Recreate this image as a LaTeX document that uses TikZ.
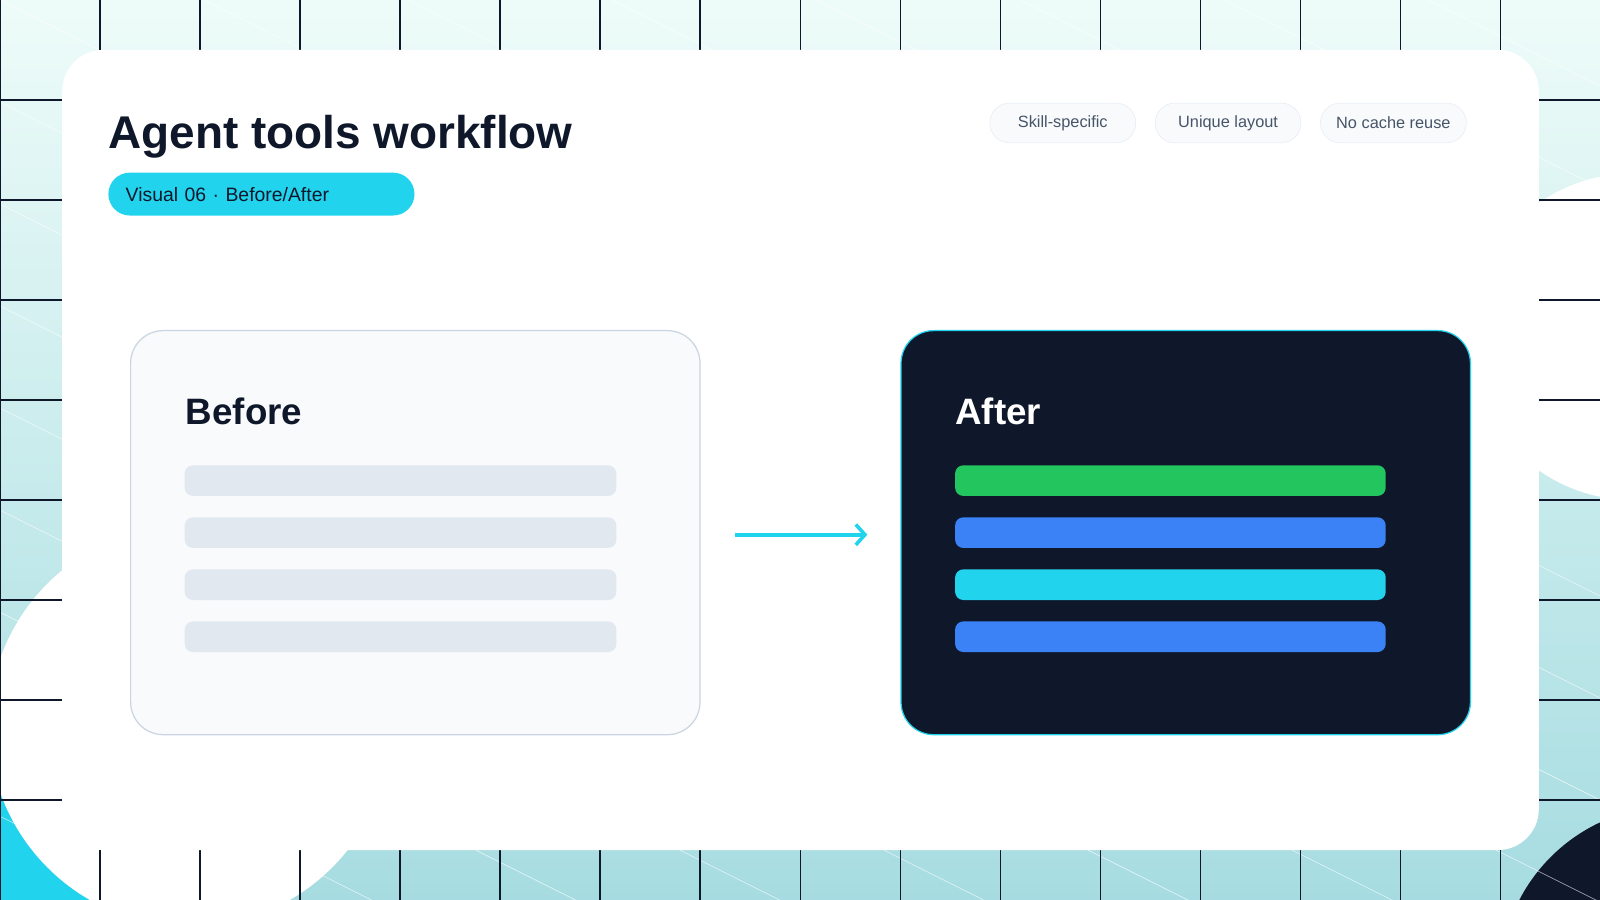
\documentclass[tikz,border=0pt]{standalone}
\usepackage{fontspec}
\setmainfont{Liberation Sans}
\usetikzlibrary{arrows.meta}
\definecolor{bgtop}{HTML}{EEFCF9}
\definecolor{bgbot}{HTML}{A6DCE1}
\definecolor{cyanx}{HTML}{22D3EE}
\definecolor{navy}{HTML}{0F172A}
\definecolor{slate50}{HTML}{F8FAFC}
\definecolor{slate200}{HTML}{E2E8F0}
\definecolor{slate300}{HTML}{CBD5E1}
\definecolor{slate600}{HTML}{475569}
\definecolor{greenx}{HTML}{22C55E}
\definecolor{bluex}{HTML}{3B82F6}
\tikzset{
  chip/.style={draw=slate200,fill=slate50,rounded corners=19.5pt,minimum width=143pt,minimum height=39pt,inner sep=0pt,text=slate600,font=\fontsize{16}{18}\selectfont},
  panel/.style={rounded corners=32pt,line width=1.2pt},
  bar/.style={rounded corners=8pt},
  head/.style={anchor=base west,font=\fontsize{36}{40}\selectfont\bfseries,inner sep=0pt}
}
\begin{document}
\begin{tikzpicture}[x=1pt,y=-1pt]
\useasboundingbox (0,0) rectangle (1568,882);
% background
\shade[top color=bgtop,bottom color=bgbot] (0,0) rectangle (1568,882);
\begin{scope}
\clip (0,0) rectangle (1568,882);
\fill[cyanx] (-60,880) circle (209);
\fill[white] (186,711) circle (197);
\fill[white] (1600,330) circle (160);
\fill[navy] (1640,960) circle (170);
\foreach \i in {-16,...,16}{
  \draw[white,opacity=0.6,line width=0.7pt] (\i*200,0) -- ++(1800,900);
}
\foreach \k in {0,...,16}{
  \draw[navy,line width=1pt] (\k*98,0) -- (\k*98,882);
}
\foreach \k in {1,...,8}{
  \draw[navy,line width=1pt] (0,\k*98) -- (1568,\k*98);
}
\end{scope}
% card
\fill[white,rounded corners=40pt] (61,49) rectangle (1508,833);
% title
\node[anchor=base west,inner sep=0pt,text=navy,font=\fontsize{45}{50}\selectfont\bfseries] (title) at (106,146) {Agent tools workflow};
\node[fill=cyanx,rounded corners=21pt,minimum width=300pt,minimum height=42pt,inner sep=0pt,text=navy,font=\fontsize{19}{22}\selectfont,anchor=north west,text width=266pt,align=left] (pill) at (106,169) {Visual 06 \textperiodcentered{} Before/After};
% chips
\node[chip] (c1) at (1041.5,120.5) {Skill-specific};
\node[chip] (c2) at (1203.5,120.5) {Unique layout};
\node[chip] (c3) at (1365.5,120.5) {No cache reuse};
% before panel
\draw[panel,draw=slate300,fill=slate50] (128,324) rectangle (686,720);
\node[panel,minimum width=558pt,minimum height=396pt] (before) at (407,522) {};
\node[head,text=navy] (bt) at (182,416) {Before};
\foreach \y in {456,507,558,609}{
  \fill[bar,slate200] (181,\y) rectangle (604,\y+30);
}
% after panel
\draw[panel,draw=cyanx,fill=navy] (883,324) rectangle (1441,720);
\node[minimum width=558pt,minimum height=396pt] (after) at (1162,522) {};
\node[head,text=white] (at) at (936,416) {After};
\fill[bar,greenx] (936,456) rectangle (1358,486);
\fill[bar,bluex] (936,507) rectangle (1358,537);
\fill[bar,cyanx] (936,558) rectangle (1358,588);
\fill[bar,bluex] (936,609) rectangle (1358,639);
% arrow
\coordinate (a1) at (720,524);
\coordinate (a2) at (850,524);
\draw[cyanx,line width=4pt,-{Straight Barb[length=9pt,width=20pt,line width=3.5pt]}] (a1) -- (a2);
\end{tikzpicture}
\end{document}
